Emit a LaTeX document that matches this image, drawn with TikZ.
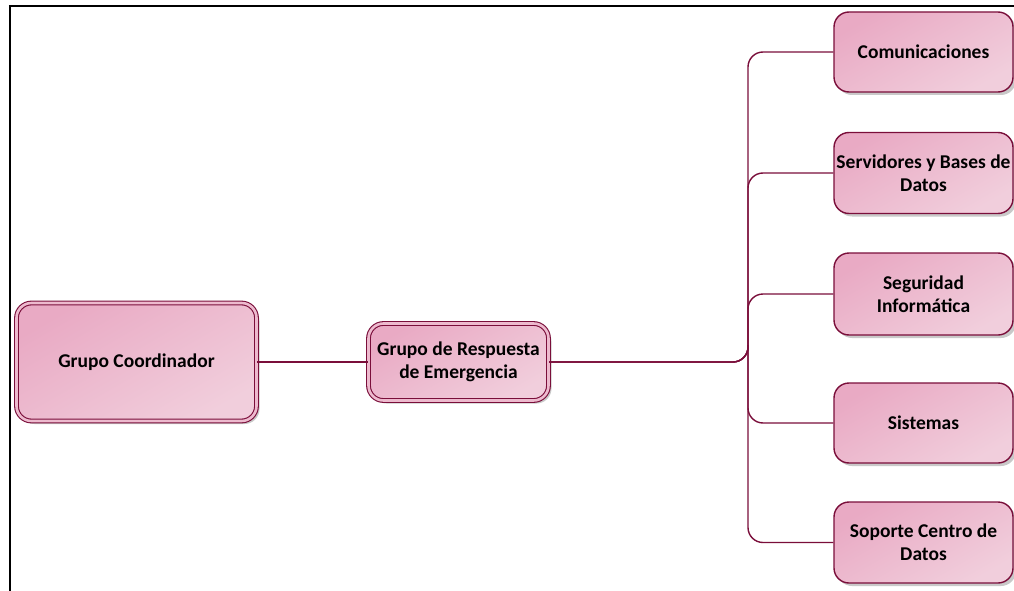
\documentclass[tikz,border=0pt]{standalone}
\usepackage{fontspec}
\setmainfont{Carlito}
\usetikzlibrary{shadows}
\definecolor{maroon}{RGB}{122,14,58}
\definecolor{pinkA}{RGB}{233,170,196}
\definecolor{pinkB}{RGB}{241,206,220}
\definecolor{pinkM}{RGB}{237,186,206}
\tikzset{
  box/.style={rounded corners=15pt, draw=maroon, line width=1.4pt,
    top color=pinkA, bottom color=pinkB, shading angle=30,
    drop shadow={shadow xshift=3pt, shadow yshift=-3pt, fill=black!30, opacity=0.7},
    align=center, inner sep=0pt, font=\fontsize{19.5}{23}\selectfont\bfseries},
  dbox/.style={box, line width=1.1pt, double=pinkM, double distance=2.6pt},
  conn/.style={draw=maroon, line width=1.4pt, rounded corners=15pt},
  frame/.style={draw=black, line width=2.4pt}
}
\begin{document}
\begin{tikzpicture}[x=1pt,y=-1pt]
\useasboundingbox (0,0) rectangle (1014,591);
\draw[frame] (8.8,6) -- (1016,6);
\draw[frame] (10,6) -- (10,593);
\node[dbox, minimum width=240pt, minimum height=118pt] (coord) at (136.5,362) {Grupo Coordinador};
\node[dbox, minimum width=180pt, minimum height=77pt] (resp) at (458.5,362) {Grupo de Respuesta\\de Emergencia};
\node[box, minimum width=179pt, minimum height=80pt] (com) at (923.5,52) {Comunicaciones};
\node[box, minimum width=179pt, minimum height=81pt] (serv) at (923.5,173) {Servidores y Bases de\\Datos};
\node[box, minimum width=179pt, minimum height=82pt] (seg) at (923.5,294) {Seguridad\\Informática};
\node[box, minimum width=179pt, minimum height=80pt] (sis) at (923.5,423) {Sistemas};
\node[box, minimum width=179pt, minimum height=81pt] (sop) at (923.5,542.5) {Soporte Centro de\\Datos};
\coordinate (tr) at (748,0);
\coordinate (jn) at (748,345);
\draw[conn] (coord.east) -- (resp.west);
\foreach \c in {com,serv,seg}{
  \draw[conn] (resp.east) -- (resp.east -| tr) |- (\c.west);
}
\foreach \c in {sis,sop}{
  \draw[conn] (jn) |- (\c.west);
}
\end{tikzpicture}
\end{document}
